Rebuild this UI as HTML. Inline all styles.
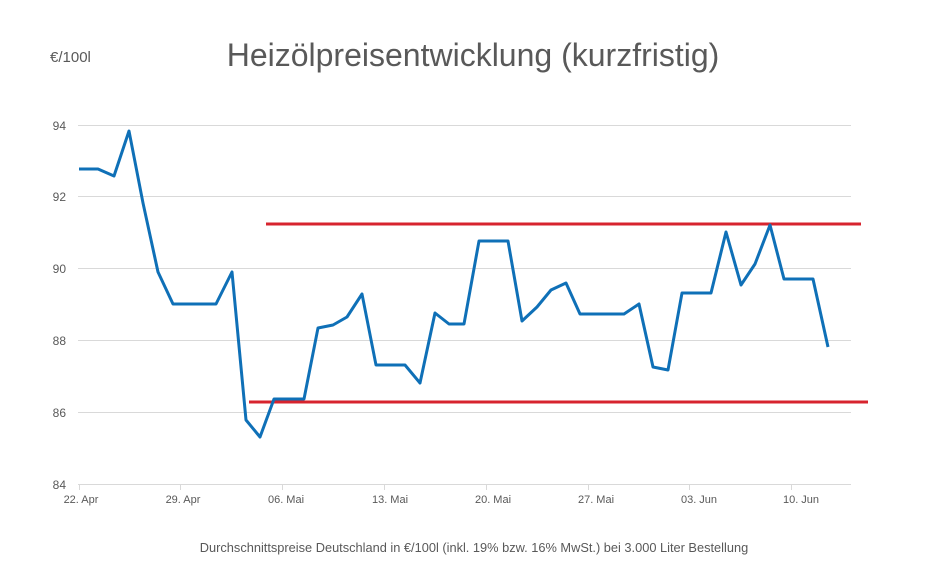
<!DOCTYPE html>
<html><head><meta charset="utf-8"><style>
body{margin:0;background:#fff;width:941px;height:562px;overflow:hidden}
svg text{font-family:"Liberation Sans","DejaVu Sans",sans-serif}
</style></head><body>
<svg width="941" height="562" xmlns="http://www.w3.org/2000/svg">
<text x="473" y="66" font-size="32" fill="#595959" text-anchor="middle">Heizölpreisentwicklung (kurzfristig)</text>
<text x="50" y="62" font-size="15" fill="#595959">€/100l</text>
<g stroke="#d9d9d9" stroke-width="1">
<line x1="78" x2="851" y1="125.5" y2="125.5"/>
<line x1="78" x2="851" y1="196.5" y2="196.5"/>
<line x1="78" x2="851" y1="268.5" y2="268.5"/>
<line x1="78" x2="851" y1="340.5" y2="340.5"/>
<line x1="78" x2="851" y1="412.5" y2="412.5"/>
<line x1="78" x2="851" y1="484.5" y2="484.5"/>
<line x1="79.5" x2="79.5" y1="484" y2="490"/>
<line x1="180.5" x2="180.5" y1="484" y2="490"/>
<line x1="282.5" x2="282.5" y1="484" y2="490"/>
<line x1="384.5" x2="384.5" y1="484" y2="490"/>
<line x1="486.5" x2="486.5" y1="484" y2="490"/>
<line x1="588.5" x2="588.5" y1="484" y2="490"/>
<line x1="689.5" x2="689.5" y1="484" y2="490"/>
<line x1="791.5" x2="791.5" y1="484" y2="490"/>
</g>
<g font-size="12" fill="#595959" text-anchor="end">
<text x="66" y="130">94</text><text x="66" y="201">92</text><text x="66" y="273">90</text>
<text x="66" y="345">88</text><text x="66" y="417">86</text><text x="66" y="489">84</text>
</g>
<g font-size="11" fill="#595959" text-anchor="middle">
<text x="81" y="503">22. Apr</text><text x="183" y="503">29. Apr</text><text x="286" y="503">06. Mai</text>
<text x="390" y="503">13. Mai</text><text x="493" y="503">20. Mai</text><text x="596" y="503">27. Mai</text>
<text x="699" y="503">03. Jun</text><text x="801" y="503">10. Jun</text>
</g>
<line x1="266" x2="861" y1="224" y2="224" stroke="#d7242e" stroke-width="3"/>
<line x1="249" x2="868" y1="402" y2="402" stroke="#d7242e" stroke-width="3"/>
<polyline fill="none" stroke="#0f70b7" stroke-width="3" stroke-linejoin="round" points="79,169 98,169 114,176 129,131 143,203 158,272 173,304 216,304 232,272 246,420 260,437 274,399 304,399 318,328 333,325 347,317 362,294 376,365 405,365 420,383 435,313 449,324 464,324 479,241 508,241 522,321 537,307 551,290 566,283 580,314 624,314 639,304 653,367 668,370 682,293 711,293 726,232 741,285 755,264 770,225 784,279 813,279 828,347"/>
<text x="474" y="552" font-size="12.8" fill="#595959" text-anchor="middle">Durchschnittspreise Deutschland in €/100l (inkl. 19% bzw. 16%  MwSt.) bei 3.000 Liter Bestellung</text>
</svg>
</body></html>
